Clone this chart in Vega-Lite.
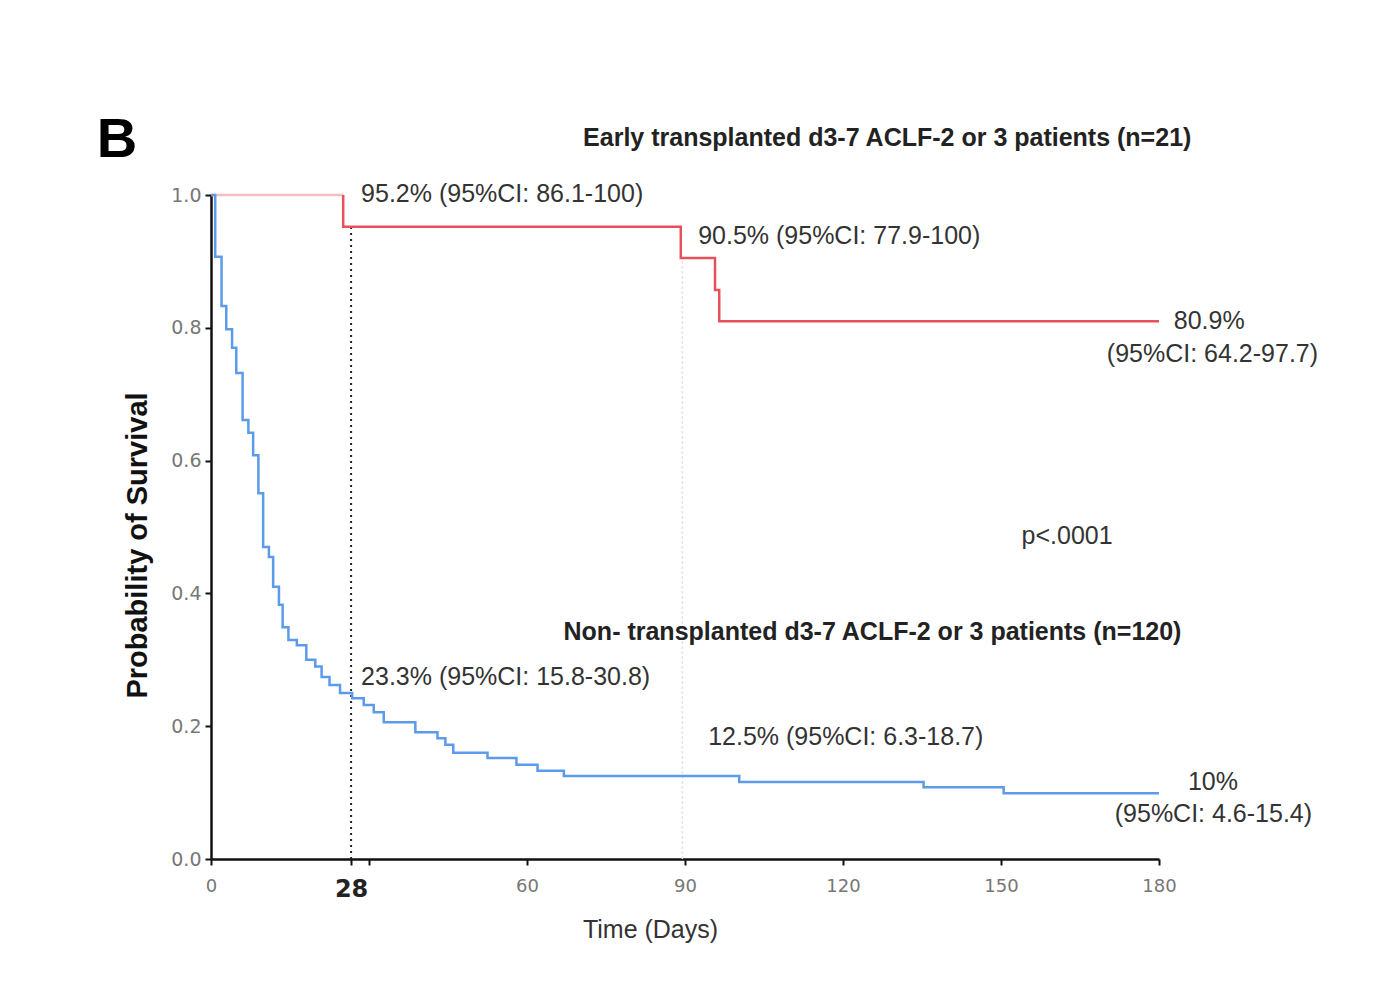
{
  "$schema": "https://vega.github.io/schema/vega-lite/v6.json",
  "autosize": {"type": "none"},
  "width": 948,
  "height": 664,
  "padding": {"left": 211, "top": 195, "right": 225, "bottom": 146},
  "background": "white",
  "config": {"view": {"stroke": null}, "font": "Liberation Sans"},
  "datasets": {
    "curves": [
      {"group": "tx0", "day": 0, "s": 1.0},
      {"group": "tx0", "day": 25.1, "s": 1.0},
      {"group": "tx", "day": 25.1, "s": 1.0},
      {"group": "tx", "day": 25.1, "s": 0.952},
      {"group": "tx", "day": 89.2, "s": 0.905},
      {"group": "tx", "day": 95.7, "s": 0.857},
      {"group": "tx", "day": 96.5, "s": 0.810},
      {"group": "tx", "day": 180, "s": 0.810},
      {"group": "ntx", "day": 0, "s": 1.0},
      {"group": "ntx", "day": 0.8, "s": 0.907},
      {"group": "ntx", "day": 2.0, "s": 0.833},
      {"group": "ntx", "day": 2.9, "s": 0.798},
      {"group": "ntx", "day": 4.0, "s": 0.770},
      {"group": "ntx", "day": 4.8, "s": 0.732},
      {"group": "ntx", "day": 6.0, "s": 0.661},
      {"group": "ntx", "day": 7.1, "s": 0.642},
      {"group": "ntx", "day": 8.0, "s": 0.608},
      {"group": "ntx", "day": 9.0, "s": 0.551},
      {"group": "ntx", "day": 9.9, "s": 0.470},
      {"group": "ntx", "day": 11.0, "s": 0.455},
      {"group": "ntx", "day": 11.8, "s": 0.410},
      {"group": "ntx", "day": 12.9, "s": 0.383},
      {"group": "ntx", "day": 13.6, "s": 0.349},
      {"group": "ntx", "day": 14.7, "s": 0.330},
      {"group": "ntx", "day": 16.3, "s": 0.322},
      {"group": "ntx", "day": 18.1, "s": 0.300},
      {"group": "ntx", "day": 19.8, "s": 0.290},
      {"group": "ntx", "day": 21.0, "s": 0.274},
      {"group": "ntx", "day": 22.5, "s": 0.262},
      {"group": "ntx", "day": 24.5, "s": 0.250},
      {"group": "ntx", "day": 26.8, "s": 0.242},
      {"group": "ntx", "day": 29.0, "s": 0.232},
      {"group": "ntx", "day": 30.9, "s": 0.221},
      {"group": "ntx", "day": 32.8, "s": 0.206},
      {"group": "ntx", "day": 38.8, "s": 0.191},
      {"group": "ntx", "day": 43.0, "s": 0.182},
      {"group": "ntx", "day": 44.5, "s": 0.172},
      {"group": "ntx", "day": 46.0, "s": 0.160},
      {"group": "ntx", "day": 52.5, "s": 0.152},
      {"group": "ntx", "day": 58.0, "s": 0.142},
      {"group": "ntx", "day": 62.0, "s": 0.133},
      {"group": "ntx", "day": 67.0, "s": 0.125},
      {"group": "ntx", "day": 100.3, "s": 0.116},
      {"group": "ntx", "day": 135.3, "s": 0.108},
      {"group": "ntx", "day": 150.5, "s": 0.099},
      {"group": "ntx", "day": 180, "s": 0.099}
    ],
    "dotted": [{"day": 26.6, "y1": 0, "y2": 0.952}],
    "faint": [{"day": 89.5, "y1": 0, "y2": 0.905}],
    "notes": [
      {"x": 28.5, "y": 1.0015, "label": "95.2% (95%CI: 86.1-100)"},
      {"x": 92.5, "y": 0.938, "label": "90.5% (95%CI: 77.9-100)"},
      {"x": 182.8, "y": 0.810, "label": "80.9%"},
      {"x": 170.1, "y": 0.7605, "label": "(95%CI: 64.2-97.7)"},
      {"x": 153.9, "y": 0.486, "label": "p<.0001"},
      {"x": 28.5, "y": 0.274, "label": "23.3% (95%CI: 15.8-30.8)"},
      {"x": 94.4, "y": 0.184, "label": "12.5% (95%CI: 6.3-18.7)"},
      {"x": 185.5, "y": 0.116, "label": "10%"},
      {"x": 171.6, "y": 0.068, "label": "(95%CI: 4.6-15.4)"}
    ],
    "titles": [
      {"x": 128.4, "y": 1.086, "label": "Early transplanted d3-7 ACLF-2 or 3 patients (n=21)"},
      {"x": 125.6, "y": 0.342, "label": "Non- transplanted d3-7 ACLF-2 or 3 patients (n=120)"}
    ],
    "panel": [{"x": -21.7, "y": 1.083, "label": "B"}]
  },
  "layer": [
    {
      "data": {"name": "faint"},
      "mark": {"type": "rule", "color": "#e4e4e4", "strokeWidth": 1.5, "strokeDash": [3, 2]},
      "encoding": {
        "x": {"field": "day", "type": "quantitative"},
        "y": {"field": "y1", "type": "quantitative"},
        "y2": {"field": "y2"}
      }
    },
    {
      "data": {"name": "dotted"},
      "mark": {"type": "rule", "color": "#222222", "strokeWidth": 2, "strokeDash": [2, 4]},
      "encoding": {
        "x": {"field": "day", "type": "quantitative"},
        "y": {"field": "y1", "type": "quantitative"},
        "y2": {"field": "y2"}
      }
    },
    {
      "data": {"name": "curves"},
      "mark": {"type": "line", "interpolate": "step-after", "strokeWidth": 2.5},
      "encoding": {
        "x": {
          "field": "day",
          "type": "quantitative",
          "scale": {"domain": [0, 180], "nice": false},
          "axis": {
            "values": [0, 26.6, 30, 60, 90, 120, 150, 180],
            "labelExpr": "datum.value == 30 ? '' : (datum.value == 26.6 ? '28' : datum.label)",
            "labelFlush": false,
            "grid": false,
            "domainColor": "#111111",
            "domainWidth": 2.5,
            "tickColor": "#111111",
            "tickWidth": 2,
            "tickSize": 6,
            "labelPadding": 12,
            "labelFontSize": {"condition": {"test": "datum.value == 26.6", "value": 24}, "value": 18},
            "labelFontWeight": {"condition": {"test": "datum.value == 26.6", "value": "bold"}, "value": "normal"},
            "labelColor": {"condition": {"test": "datum.value == 26.6", "value": "#222222"}, "value": "#777777"},
            "labelFont": "DejaVu Sans",
            "title": "Time (Days)",
            "titleFont": "Liberation Sans",
            "titleFontSize": 25,
            "titleFontWeight": "normal",
            "titleColor": "#333333",
            "titleX": 439,
            "titlePadding": 16
          }
        },
        "y": {
          "field": "s",
          "type": "quantitative",
          "scale": {"domain": [0, 1], "nice": false},
          "axis": {
            "values": [0, 0.2, 0.4, 0.6, 0.8, 1.0],
            "format": ".1f",
            "grid": false,
            "domainColor": "#111111",
            "domainWidth": 2.5,
            "tickColor": "#111111",
            "tickWidth": 2,
            "tickSize": 6,
            "labelPadding": 4,
            "labelFontSize": 19,
            "labelColor": "#777777",
            "labelFont": "DejaVu Sans",
            "title": "Probability of Survival",
            "titleFont": "Liberation Sans",
            "titleFontSize": 29,
            "titleFontWeight": "bold",
            "titleColor": "#111111",
            "titleY": 350,
            "titlePadding": 18
          }
        },
        "color": {
          "field": "group",
          "type": "nominal",
          "scale": {"domain": ["tx0", "tx", "ntx"], "range": ["#f6bfc3", "#e8505a", "#5b9bea"]},
          "legend": null
        }
      }
    },
    {
      "data": {"name": "notes"},
      "mark": {"type": "text", "align": "left", "baseline": "middle", "fontSize": 25, "color": "#333333", "font": "Liberation Sans"},
      "encoding": {
        "x": {"field": "x", "type": "quantitative"},
        "y": {"field": "y", "type": "quantitative"},
        "text": {"field": "label"}
      }
    },
    {
      "data": {"name": "titles"},
      "mark": {"type": "text", "align": "center", "baseline": "middle", "fontSize": 25, "fontWeight": "bold", "color": "#222222", "font": "Liberation Sans"},
      "encoding": {
        "x": {"field": "x", "type": "quantitative"},
        "y": {"field": "y", "type": "quantitative"},
        "text": {"field": "label"}
      }
    },
    {
      "data": {"name": "panel"},
      "mark": {"type": "text", "align": "left", "baseline": "middle", "fontSize": 56, "fontWeight": "bold", "color": "#000000", "font": "Liberation Sans"},
      "encoding": {
        "x": {"field": "x", "type": "quantitative"},
        "y": {"field": "y", "type": "quantitative"},
        "text": {"field": "label"}
      }
    }
  ]
}
